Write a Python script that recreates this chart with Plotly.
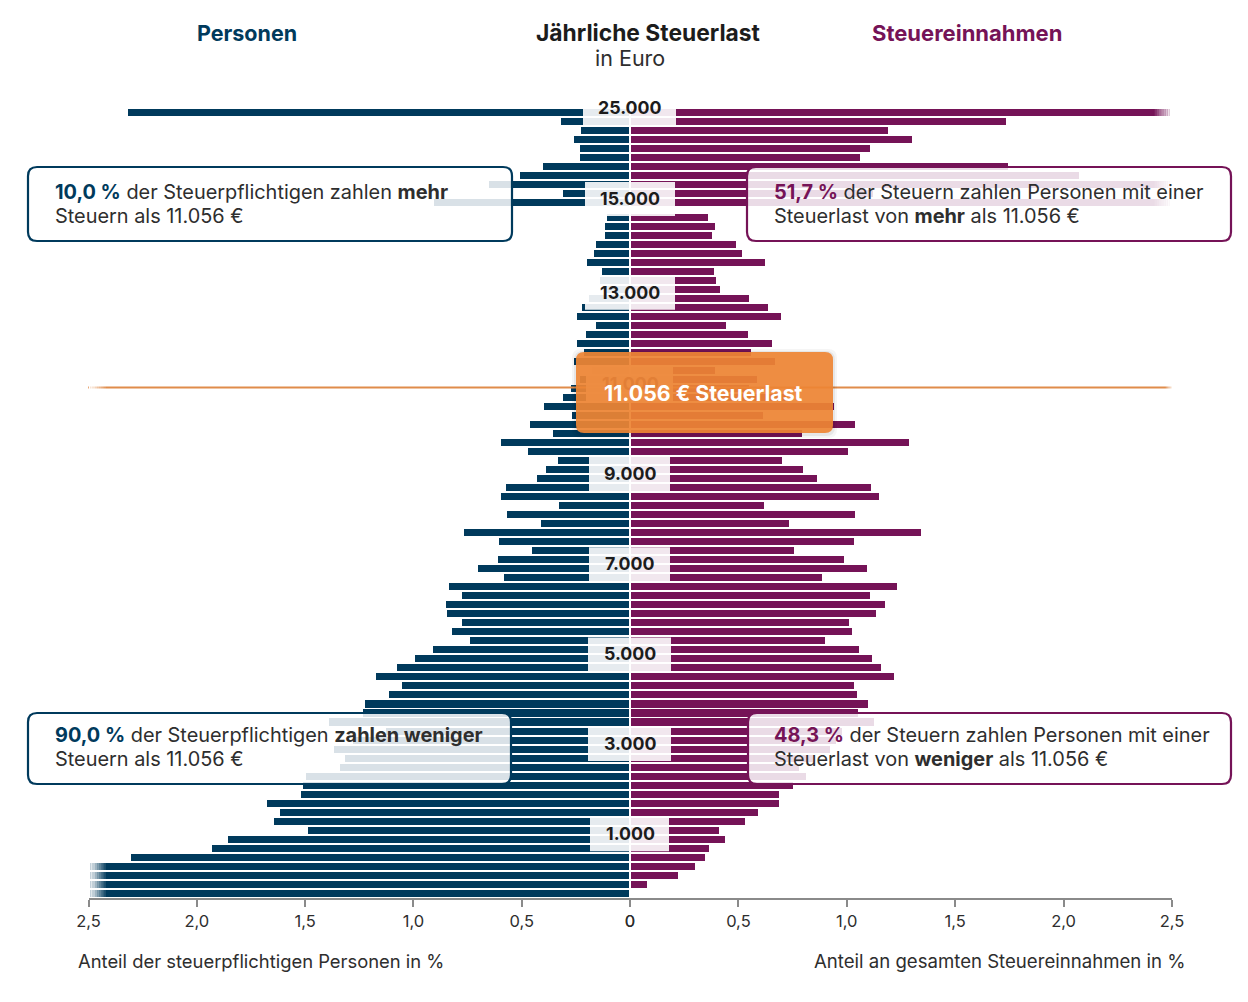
import plotly.graph_objects as go

# Anteil der Personen je Steuerklasse in %, von oben nach unten
personen = [
    2.32, 0.32, 0.23, 0.26, 0.235, 0.235, 0.406, 0.508, 0.655, 0.31, 0.905,
    0.11, 0.12, 0.12, 0.157, 0.167, 0.203, 0.13, 0.14, 0.12, 0.19, 0.226,
    0.249, 0.16, 0.204, 0.245, 0.217, 0.263, 0.18, 0.235, 0.277, 0.31, 0.40,
    0.268, 0.462, 0.36, 0.596, 0.471, 0.337, 0.392, 0.434, 0.573, 0.6, 0.328,
    0.568, 0.411, 0.771, 0.609, 0.457, 0.614, 0.702, 0.582, 0.836, 0.776, 0.85,
    0.845, 0.78, 0.822, 0.743, 0.91, 0.997, 1.076, 1.177, 1.053, 1.113, 1.226,
    1.237, 1.394, 1.13, 1.28, 1.371, 1.316, 1.339, 1.50, 1.51, 1.519, 1.68,
    1.616, 1.644, 1.487, 1.856, 1.934, 2.304, 2.5, 2.5, 2.5, 2.5,
]
# Anteil an den Steuereinnahmen in %
steuern = [
    2.5, 1.736, 1.19, 1.30, 1.108, 1.06, 1.745, 2.07, 2.5, 1.12, 2.5,
    0.36, 0.392, 0.378, 0.489, 0.517, 0.624, 0.388, 0.397, 0.415, 0.549, 0.637,
    0.697, 0.443, 0.545, 0.656, 0.559, 0.67, 0.392, 0.586, 0.55, 0.72, 0.94,
    0.615, 1.04, 0.794, 1.288, 1.006, 0.702, 0.799, 0.863, 1.113, 1.15, 0.619,
    1.039, 0.734, 1.344, 1.034, 0.757, 0.988, 1.094, 0.886, 1.233, 1.108, 1.177,
    1.136, 1.011, 1.025, 0.90, 1.057, 1.117, 1.159, 1.219, 1.034, 1.048, 1.099,
    1.052, 1.127, 0.98, 0.95, 0.923, 0.85, 0.78, 0.812, 0.752, 0.688, 0.688,
    0.59, 0.53, 0.41, 0.438, 0.364, 0.346, 0.30, 0.22, 0.078, 0,
]
# Reihen von oben nach unten (oberhalb von 15.000 ist die Achse gestaucht)
reihen = [86.6 - i for i in range(11)] + [75 - i for i in range(76)]

stufen = ["25.000", "15.000", "13.000", "11.000", "9.000", "7.000", "5.000", "3.000", "1.000"]
stufen_reihe = [87.1, 77.0, 66.6, 56.5, 46.5, 36.5, 26.5, 16.55, 6.55]
stufen_links = [583, 585, 585, 586, 589, 589, 588, 588, 590]
stufen_rechts = [676, 675, 675, 673, 670, 670, 671, 671, 669]

achse_werte = [0, 0.5, 1, 1.5, 2, 2.5]
achse_text = ["0", "0,5", "1,0", "1,5", "2,0", "2,5"]
schwelle_reihe = 56.1

NAVY = "#003a5c"
LILA = "#751357"
TEXT = "#2e2e2e"
ORANGE_LINIE = "#e08c4b"
FONT = "Inter"
W, H = 1248, 1002


def px(x):
    return x / W


def py(y):
    return 1 - y / H


def round_box(x0, y0, x1, y1, r):
    # abgerundetes Rechteck als Pfad, in Papierkoordinaten
    p = [
        f"M {px(x0 + r)} {py(y0)}", f"L {px(x1 - r)} {py(y0)}",
        f"Q {px(x1)} {py(y0)} {px(x1)} {py(y0 + r)}", f"L {px(x1)} {py(y1 - r)}",
        f"Q {px(x1)} {py(y1)} {px(x1 - r)} {py(y1)}", f"L {px(x0 + r)} {py(y1)}",
        f"Q {px(x0)} {py(y1)} {px(x0)} {py(y1 - r)}", f"L {px(x0)} {py(y0 + r)}",
        f"Q {px(x0)} {py(y0)} {px(x0 + r)} {py(y0)}", "Z",
    ]
    return " ".join(p)


fig = go.Figure()
fig.add_trace(go.Bar(y=reihen, x=personen, orientation="h", width=0.78, marker_color=NAVY,
                     marker_line_width=0, xaxis="x", yaxis="y", name="Personen"))
fig.add_trace(go.Bar(y=reihen, x=steuern, orientation="h", width=0.78, marker_color=LILA,
                     marker_line_width=0, xaxis="x2", yaxis="y", name="Steuereinnahmen"))

shapes = []

# weisse Mittellinie
shapes.append(dict(type="line", xref="paper", yref="y", x0=px(630), x1=px(630), y0=-0.5, y1=87.2,
                   line=dict(color="white", width=2), layer="above"))

# Schwelle 11.056 Euro
shapes.append(dict(type="line", xref="paper", yref="y", x0=px(88), x1=px(1172),
                   y0=schwelle_reihe, y1=schwelle_reihe,
                   line=dict(color=ORANGE_LINIE, width=2), layer="above"))


def fade(xref, start, y0, y1, n=8):
    # weisse Streifen, damit die Balken am Achsenende auslaufen
    for i in range(n):
        a = start + (2.5 - start) * i / n
        b = start + (2.5 - start) * (i + 1) / n
        shapes.append(dict(type="rect", xref=xref, yref="y", x0=a, x1=b, y0=y0, y1=y1,
                           fillcolor=f"rgba(255,255,255,{(i + 1) / n:.2f})", line_width=0,
                           layer="above"))


fade("x", 2.42, -0.45, 3.45)
fade("x", 2.42, schwelle_reihe - 0.3, schwelle_reihe + 0.3)
fade("x2", 2.42, 86.2, 87.0)
fade("x2", 2.42, 78.2, 79.0)
fade("x2", 2.42, 76.2, 77.0)
fade("x2", 2.47, schwelle_reihe - 0.3, schwelle_reihe + 0.3)

# Kaesten der Steuerstufen
for lab, r, l, re in zip(stufen, stufen_reihe, stufen_links, stufen_rechts):
    shapes.append(dict(type="rect", xref="paper", yref="y", x0=px(l), x1=px(re),
                       y0=r - 1.886, y1=r + 1.886, fillcolor="rgba(255,255,255,0.9)",
                       line_width=0, layer="above"))

# Infokaesten
for box, col in [((28, 167, 512, 241), NAVY), ((747, 167, 1231, 241), LILA),
                 ((28, 713, 511, 784), NAVY), ((748, 713, 1231, 784), LILA)]:
    shapes.append(dict(type="path", xref="paper", yref="paper", path=round_box(*box, 9),
                       fillcolor="rgba(255,255,255,0.85)", line=dict(color=col, width=2.2),
                       layer="above"))

# orangener Kasten mit leichtem Schatten
for grow, alpha in [(4, 0.04), (2, 0.06)]:
    shapes.append(dict(type="path", xref="paper", yref="paper",
                       path=round_box(576 - grow, 352 - grow + 1, 833 + grow, 433 + grow + 1, 9),
                       fillcolor=f"rgba(0,0,0,{alpha})", line_width=0, layer="above"))
shapes.append(dict(type="path", xref="paper", yref="paper", path=round_box(576, 352, 833, 433, 8),
                   fillcolor="rgba(239,134,52,0.92)", line_width=0, layer="above"))
fig.update_layout(shapes=shapes)


def text(x, y, s, size, color=TEXT, anchor="left", yref="paper"):
    fig.add_annotation(xref="paper", yref=yref, x=px(x), y=py(y) if yref == "paper" else y, text=s,
                       showarrow=False, xanchor=anchor, yanchor="middle", align=anchor,
                       font=dict(family=FONT, size=size, color=color), borderpad=0)


text(247, 33, "<b>Personen</b>", 21.5, NAVY, "center")
text(967, 33, "<b>Steuereinnahmen</b>", 22, LILA, "center")
text(648, 33, "<b>Jährliche Steuerlast</b>", 22.8, "#1c1c1c", "center")
text(629.5, 58, "in Euro", 21.5, TEXT, "center")

for lab, r in zip(stufen, stufen_reihe):
    if lab == "11.000":
        text(630, r + 0.05, f"<b>{lab}</b>", 17.8, "#e27f36", "center", "y")
    else:
        text(630, r + 0.05, f"<b>{lab}</b>", 17.8, "#1c1c1c", "center", "y")

text(703.5, 393, "<b>11.056 € Steuerlast</b>", 21.3, "white", "center")

GROSS = 19.9
text(54, 192, f"<span style='color:{NAVY}'><b>10,0 %</b></span> der Steuerpflichtigen zahlen <b>mehr</b>", GROSS)
text(54, 216, "Steuern als 11.056 €", GROSS)
text(773, 192, f"<span style='color:{LILA}'><b>51,7 %</b></span> der Steuern zahlen Personen mit einer", GROSS)
text(773, 216, "Steuerlast von <b>mehr</b> als 11.056 €", GROSS)
text(54, 735, f"<span style='color:{NAVY}'><b>90,0 %</b></span> der Steuerpflichtigen <b>zahlen weniger</b>", GROSS)
text(54, 759, "Steuern als 11.056 €", GROSS)
text(773, 735, f"<span style='color:{LILA}'><b>48,3 %</b></span> der Steuern zahlen Personen mit einer", GROSS)
text(773, 759, "Steuerlast von <b>weniger</b> als 11.056 €", GROSS)

text(76.5, 961, "Anteil der steuerpflichtigen Personen in %", 18.4)
text(1186, 961, "Anteil an gesamten Steuereinnahmen in %", 18.6, TEXT, "right")

achse = dict(tickmode="array", tickvals=achse_werte, ticktext=achse_text, showgrid=False, zeroline=False,
             showline=True, linecolor="#8a8a8a", linewidth=2, ticks="outside", ticklen=7, tickwidth=1.5,
             tickcolor="#8a8a8a", tickfont=dict(family=FONT, size=16.5, color=TEXT), fixedrange=True,
             automargin=False)

fig.update_layout(
    width=W, height=H,
    margin=dict(l=0, r=0, t=0, b=0, pad=0, autoexpand=False),
    paper_bgcolor="white", plot_bgcolor="rgba(0,0,0,0)",
    showlegend=False, bargap=0,
    xaxis=dict(domain=[px(88.5), px(630)], range=[2.5, 0], anchor="y", **achse),
    xaxis2=dict(domain=[px(630), px(1172)], range=[0, 2.5], anchor="y", **achse),
    yaxis=dict(domain=[py(898), py(90)], range=[-0.52, 89.1], visible=False, fixedrange=True),
)

fig.write_html("out.html", config={"displayModeBar": False},
               post_script="document.body.style.margin='0';document.body.style.overflow='hidden';")
